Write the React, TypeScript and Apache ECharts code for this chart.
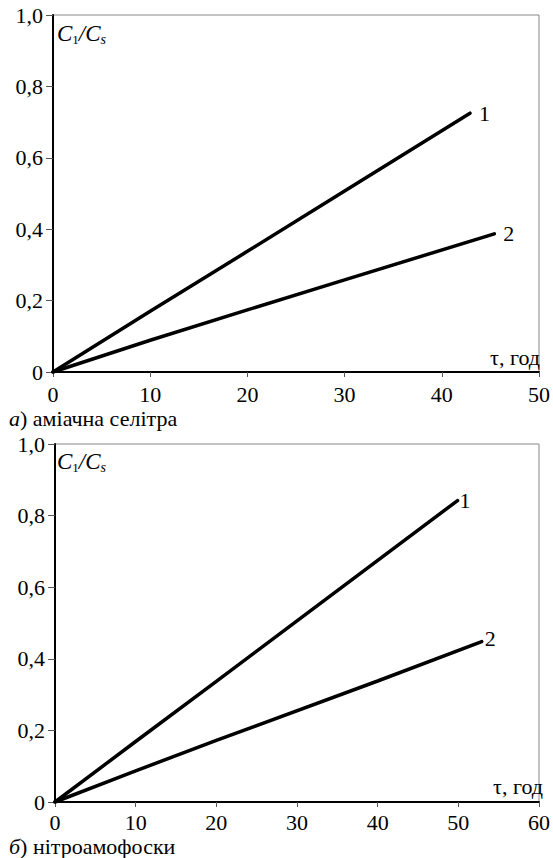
import React, { useEffect, useRef } from "react";
import * as echarts from "echarts";

// Panel a) аміачна селітра
const tauA1 = [0, 10, 20, 30, 42.9];
const ratioA1 = [0, 0.17, 0.338, 0.507, 0.725];
const tauA2 = [0, 10, 20, 30, 45.4];
const ratioA2 = [0, 0.089, 0.174, 0.258, 0.387];

// Panel б) нітроамофоски
const tauB1 = [0, 10, 20, 30, 49.9];
const ratioB1 = [0, 0.169, 0.337, 0.506, 0.842];
const tauB2 = [0, 10, 20, 40, 52.9];
const ratioB2 = [0, 0.087, 0.172, 0.338, 0.448];

const xMaxA = 50;
const xMaxB = 60;
const xStep = 10;
const yMax = 1;
const yStep = 0.2;

const curveNames = ["1", "2"];
const captionA = ["а", ") аміачна селітра"];
const captionB = ["б", ") нітроамофоски"];
const xAxisTitle = "τ, год";

const FONT = "'Liberation Serif', 'Times New Roman', serif";
const FS = 22;

const zip = (xs: number[], ys: number[]) => xs.map((x, i) => [x, ys[i]]);

export default function App() {
  const ref = useRef<HTMLDivElement>(null);
  useEffect(() => {
    if (!ref.current) return;
    const chart = echarts.init(ref.current, null, { renderer: "svg" });

    const grids = [
      { left: 53, top: 15, width: 490, height: 357 },
      { left: 55, top: 444, width: 491, height: 358 },
    ];

    const mkX = (gi: number, max: number, margin: number) => ({
      type: "value",
      gridIndex: gi,
      min: 0,
      max,
      interval: xStep,
      axisLine: { show: true, lineStyle: { color: "#000", width: 2 } },
      axisTick: { show: true, length: 5, inside: false, lineStyle: { color: "#555", width: 1 } },
      axisLabel: {
        color: "#000",
        fontFamily: FONT,
        fontSize: FS,
        lineHeight: 20,
        margin,
        formatter: (v: number) => String(v),
      },
      splitLine: { show: false },
    });

    const mkY = (gi: number) => ({
      type: "value",
      gridIndex: gi,
      min: 0,
      max: yMax,
      interval: yStep,
      axisLine: { show: true, lineStyle: { color: "#000", width: 2 } },
      axisTick: { show: true, length: 7, inside: false, lineStyle: { color: "#555", width: 1 } },
      axisLabel: {
        color: "#000",
        fontFamily: FONT,
        fontSize: FS,
        margin: 10,
        formatter: (v: number) => (v === 0 ? "0" : v.toFixed(1).replace(".", ",")),
      },
      splitLine: { show: false },
    });

    const mkSeries = (gi: number, data: number[][], name: string, dist: number, dy: number) => ({
      type: "line",
      name,
      xAxisIndex: gi,
      yAxisIndex: gi,
      data,
      showSymbol: false,
      symbol: "none",
      lineStyle: { color: "#000", width: 3.5, cap: "round" },
      endLabel: {
        show: true,
        formatter: name,
        distance: dist,
        offset: [0, dy],
        color: "#000",
        fontFamily: FONT,
        fontSize: FS,
      },
      z: 5,
    });

    const richBase = {
      i: { fontFamily: FONT, fontSize: 23, fontStyle: "italic", fill: "#000" },
      sub: { fontFamily: FONT, fontSize: 13, fill: "#000", padding: [13, 0, 0, 0] },
      subi: { fontFamily: FONT, fontSize: 14, fontStyle: "italic", fill: "#000", padding: [13, 0, 0, 0] },
      ci: { fontFamily: FONT, fontSize: FS, fontStyle: "italic", fill: "#000", lineHeight: 20 },
      n: { fontFamily: FONT, fontSize: FS, fill: "#000", lineHeight: 20 },
    };

    const ratioLabel = (x: number, y: number) => ({
      type: "text",
      x,
      y,
      style: {
        text: "{i|C}{sub|1}{i|/C}{subi|s}",
        rich: richBase,
        verticalAlign: "middle",
      },
      z: 10,
    });

    const tauLabel = (x: number, y: number) => ({
      type: "text",
      x,
      y,
      style: {
        text: xAxisTitle,
        fontFamily: FONT,
        fontSize: FS,
        fill: "#000",
        align: "right",
        verticalAlign: "middle",
      },
      z: 10,
    });

    const caption = (parts: string[], x: number, y: number) => ({
      type: "text",
      x,
      y,
      style: {
        text: `{ci|${parts[0]}}{n|${parts[1]}}`,
        rich: richBase,
        verticalAlign: "middle",
      },
      z: 10,
    });

    chart.setOption({
      animation: false,
      backgroundColor: "#fff",
      textStyle: { fontFamily: FONT },
      grid: grids.map((g) => ({
        ...g,
        show: true,
        borderColor: "#888",
        borderWidth: 1,
        backgroundColor: "transparent",
      })),
      xAxis: [mkX(0, xMaxA, 12), mkX(1, xMaxB, 10)],
      yAxis: [mkY(0), mkY(1)],
      series: [
        mkSeries(0, zip(tauA1, ratioA1), curveNames[0], 9, 0),
        mkSeries(0, zip(tauA2, ratioA2), curveNames[1], 9, 0),
        mkSeries(1, zip(tauB1, ratioB1), curveNames[0], 2, 0),
        mkSeries(1, zip(tauB2, ratioB2), curveNames[1], 3, -3),
      ],
      graphic: [
        ratioLabel(57, 33),
        ratioLabel(57, 461),
        tauLabel(540, 357),
        tauLabel(543, 786),
        caption(captionA, 9, 418),
        caption(captionB, 9, 846),
      ],
    });
    return () => chart.dispose();
  }, []);
  return (
    <div
      ref={ref}
      style={{ position: "absolute", left: 0, top: 0, width: 553, height: 858 }}
    />
  );
}
